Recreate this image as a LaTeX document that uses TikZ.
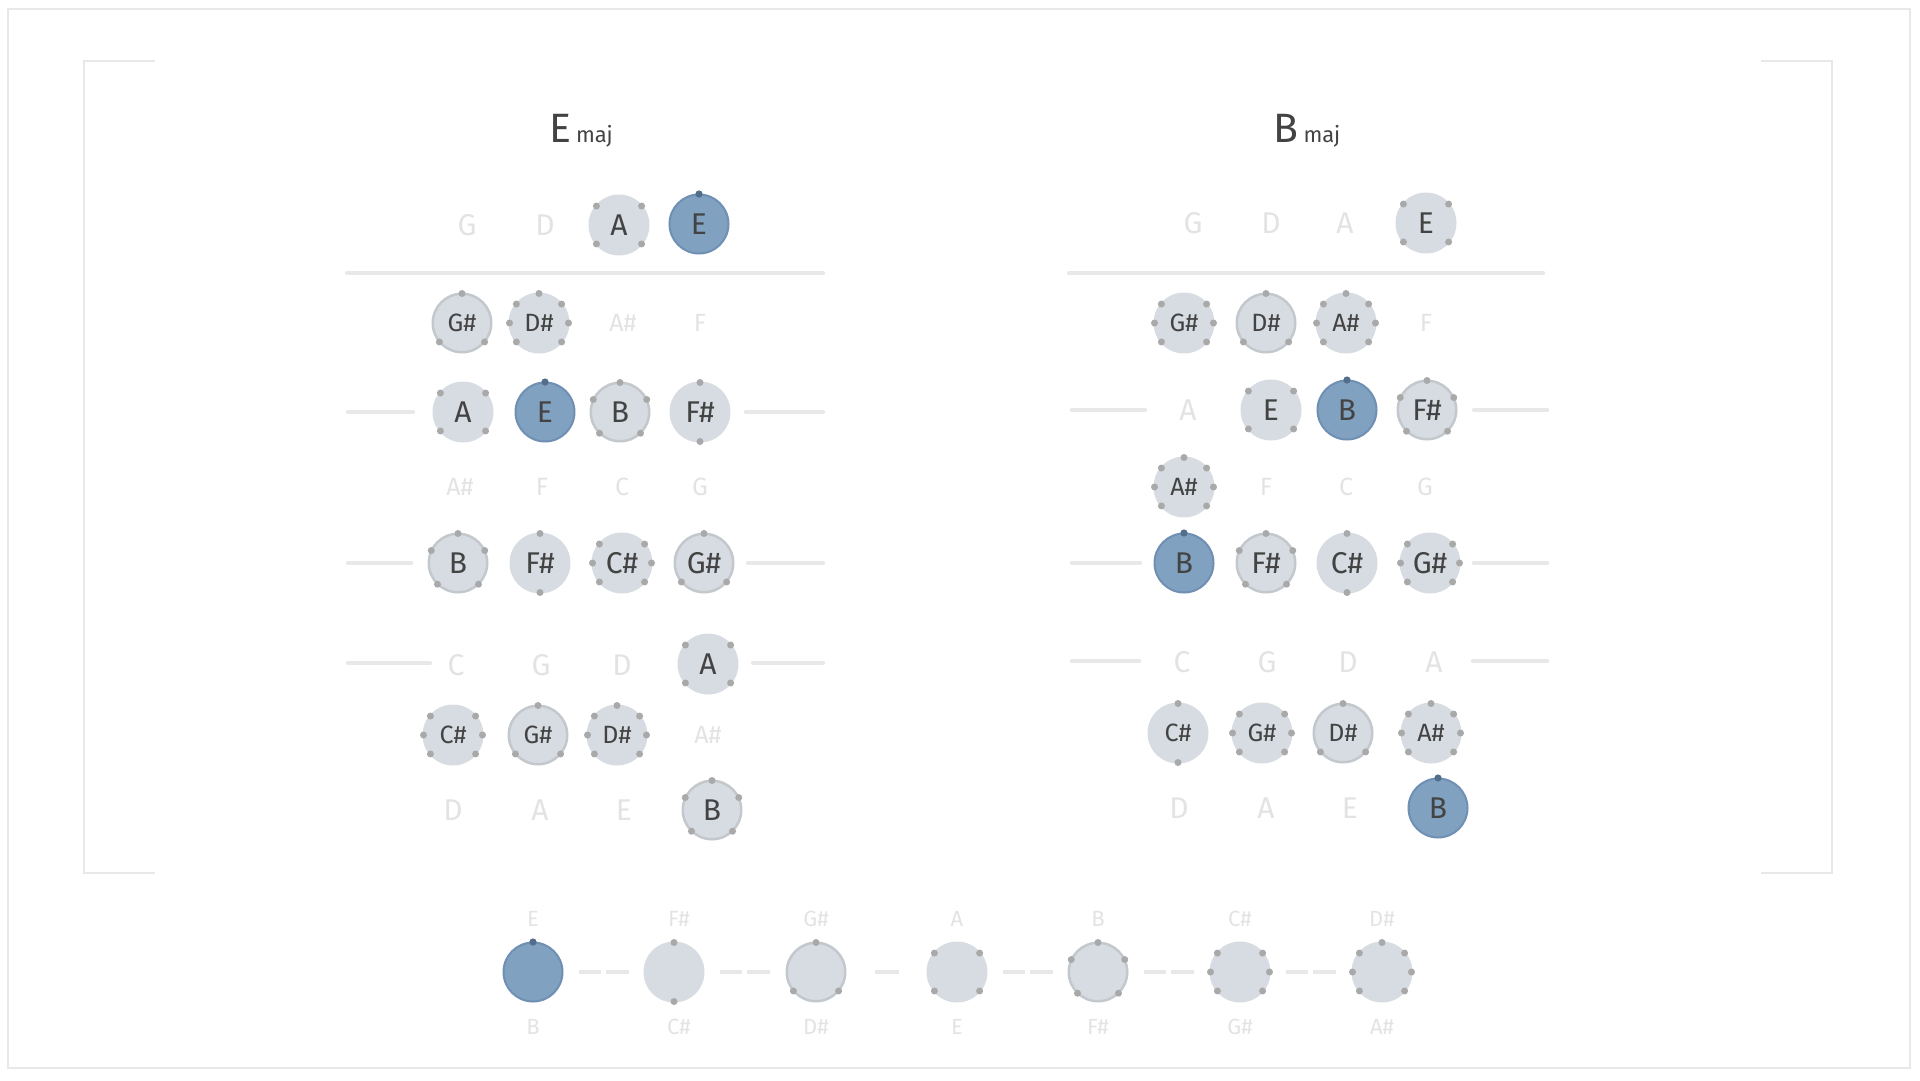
\documentclass[tikz,border=0pt]{standalone}
\usepackage{fontspec}
\setmainfont{Fira Sans}

\definecolor{notegrey}{HTML}{D6DCE2}
\definecolor{ringgrey}{HTML}{C3C8CD}
\definecolor{rootblue}{HTML}{81A1C1}
\definecolor{rootedge}{HTML}{6F8FB3}
\definecolor{rootdot}{HTML}{536E8A}
\definecolor{dotgrey}{HTML}{A9A9A9}
\definecolor{offgrey}{HTML}{E3E3E3}
\definecolor{linegrey}{HTML}{E8E8E8}
\definecolor{inktext}{HTML}{434343}

% dot angles per scale degree
\def\dgII{90,270}
\def\dgIII{90,220,320}
\def\dgIV{40,140,220,320}
\def\dgV{90,155,226,314,25}
\def\dgVI{0,40,140,180,220,320}
\def\dgVII{90,40,0,320,220,180,140}
\newcommand{\degdots}[2]{\foreach \a in #2 {\fill[dotgrey] (#1.center) ++(\a:29.5pt) circle (3.5);}}

\tikzset{
    deg/.style={circle, fill=notegrey, minimum size=61pt, inner sep=0pt, text=inktext},
    chord/.style={deg, draw=ringgrey, line width=2.5pt, minimum size=58.5pt},
    root/.style={deg, fill=rootblue, draw=rootedge, line width=2pt, minimum size=59pt},
    off/.style={inner sep=0pt, text=offgrey},
    bigrow/.style={font=\fontsize{30}{30}\selectfont},
    smallrow/.style={font=\fontsize{25}{25}\selectfont},
    lbl/.style={font=\fontsize{22}{22}\selectfont},
    title/.style={inner sep=0pt, anchor=base, text=inktext, font=\fontsize{41}{41}\selectfont},
    string/.style={draw=linegrey, line width=4.5pt, line cap=round},
    frame/.style={draw=linegrey, line width=2pt},
    whole/.style={draw=linegrey, line width=3.5pt, shorten <=45.5pt, shorten >=45.5pt, dash pattern=on 22.5pt off 5pt on 22.5pt off 200pt},
    half/.style={draw=linegrey, line width=3.5pt, shorten <=58.5pt, shorten >=58.5pt}
}

\begin{document}
\begin{tikzpicture}[x=1pt, y=-1pt]
    \useasboundingbox (0,0) rectangle (1920,1080);
    \draw[frame] (8,9) rectangle (1910,1068);
    \draw[frame] (155,61) -- (84,61) -- (84,873) -- (155,873);
    \draw[frame] (1761,61) -- (1832,61) -- (1832,873) -- (1761,873);

    % E maj
    \node[title] (ttlE) at (581,142) {E\hspace{5pt}{\fontsize{22}{22}\selectfont maj}};
    \draw[string] (347,273) -- (823,273);
    \draw[string] (348,412) -- (413,412);
    \draw[string] (746,412) -- (823,412);
    \draw[string] (348,563) -- (411,563);
    \draw[string] (748,563) -- (823,563);
    \draw[string] (348,663) -- (430,663);
    \draw[string] (753,663) -- (823,663);

    \node[off, bigrow] (e11) at (467,225) {G};
    \node[off, bigrow] (e12) at (545,225) {D};
    \node[deg, bigrow] (e13) at (619,225) {A};
    \node[root, bigrow] (e14) at (699,224) {E};
    \node[chord, smallrow] (e21) at (462,323) {G\#};
    \node[deg, smallrow] (e22) at (539,323) {D\#};
    \node[off, smallrow] (e23) at (623,323) {A\#};
    \node[off, smallrow] (e24) at (700,323) {F};
    \node[deg, bigrow] (e31) at (463,412) {A};
    \node[root, bigrow] (e32) at (545,412) {E};
    \node[chord, bigrow] (e33) at (620,412) {B};
    \node[deg, bigrow] (e34) at (700,412) {F\#};
    \node[off, smallrow] (e41) at (460,487) {A\#};
    \node[off, smallrow] (e42) at (542,487) {F};
    \node[off, smallrow] (e43) at (622,487) {C};
    \node[off, smallrow] (e44) at (700,487) {G};
    \node[chord, bigrow] (e51) at (458,563) {B};
    \node[deg, bigrow] (e52) at (540,563) {F\#};
    \node[deg, bigrow] (e53) at (622,563) {C\#};
    \node[chord, bigrow] (e54) at (704,563) {G\#};
    \node[off, bigrow] (e61) at (456,665) {C};
    \node[off, bigrow] (e62) at (541,665) {G};
    \node[off, bigrow] (e63) at (622,665) {D};
    \node[deg, bigrow] (e64) at (708,664) {A};
    \node[deg, smallrow] (e71) at (453,735) {C\#};
    \node[chord, smallrow] (e72) at (538,735) {G\#};
    \node[deg, smallrow] (e73) at (617,735) {D\#};
    \node[off, smallrow] (e74) at (708,735) {A\#};
    \node[off, bigrow] (e81) at (453,810) {D};
    \node[off, bigrow] (e82) at (540,810) {A};
    \node[off, bigrow] (e83) at (624,810) {E};
    \node[chord, bigrow] (e84) at (712,810) {B};

    % B maj
    \node[title] (ttlB) at (1307,142) {B\hspace{5pt}{\fontsize{22}{22}\selectfont maj}};
    \draw[string] (1069,273) -- (1543,273);
    \draw[string] (1072,410) -- (1145,410);
    \draw[string] (1474,410) -- (1547,410);
    \draw[string] (1072,563) -- (1140,563);
    \draw[string] (1474,563) -- (1547,563);
    \draw[string] (1072,661) -- (1139,661);
    \draw[string] (1473,661) -- (1547,661);

    \node[off, bigrow] (b11) at (1193,223) {G};
    \node[off, bigrow] (b12) at (1271,223) {D};
    \node[off, bigrow] (b13) at (1345,223) {A};
    \node[deg, bigrow] (b14) at (1426,223) {E};
    \node[deg, smallrow] (b21) at (1184,323) {G\#};
    \node[chord, smallrow] (b22) at (1266,323) {D\#};
    \node[deg, smallrow] (b23) at (1346,323) {A\#};
    \node[off, smallrow] (b24) at (1426,323) {F};
    \node[off, bigrow] (b31) at (1188,410) {A};
    \node[deg, bigrow] (b32) at (1271,410) {E};
    \node[root, bigrow] (b33) at (1347,410) {B};
    \node[chord, bigrow] (b34) at (1427,410) {F\#};
    \node[deg, smallrow] (b41) at (1184,487) {A\#};
    \node[off, smallrow] (b42) at (1266,487) {F};
    \node[off, smallrow] (b43) at (1346,487) {C};
    \node[off, smallrow] (b44) at (1425,487) {G};
    \node[root, bigrow] (b51) at (1184,563) {B};
    \node[chord, bigrow] (b52) at (1266,563) {F\#};
    \node[deg, bigrow] (b53) at (1347,563) {C\#};
    \node[deg, bigrow] (b54) at (1430,563) {G\#};
    \node[off, bigrow] (b61) at (1182,662) {C};
    \node[off, bigrow] (b62) at (1267,662) {G};
    \node[off, bigrow] (b63) at (1348,662) {D};
    \node[off, bigrow] (b64) at (1434,662) {A};
    \node[deg, smallrow] (b71) at (1178,733) {C\#};
    \node[deg, smallrow] (b72) at (1262,733) {G\#};
    \node[chord, smallrow] (b73) at (1343,733) {D\#};
    \node[deg, smallrow] (b74) at (1431,733) {A\#};
    \node[off, bigrow] (b81) at (1179,808) {D};
    \node[off, bigrow] (b82) at (1266,808) {A};
    \node[off, bigrow] (b83) at (1350,808) {E};
    \node[root, bigrow] (b84) at (1438,808) {B};

    % scale strip
    \node[root] (s1) at (533,972) {};
    \node[deg] (s2) at (674,972) {};
    \node[chord] (s3) at (816,972) {};
    \node[deg] (s4) at (957,972) {};
    \node[chord] (s5) at (1098,972) {};
    \node[deg] (s6) at (1240,972) {};
    \node[deg] (s7) at (1382,972) {};
    \foreach \x/\t/\b [count=\i] in {533/E/B, 679/F\#/C\#, 816/G\#/D\#, 957/A/E, 1098/B/F\#, 1240/C\#/G\#, 1382/D\#/A\#} {
        \node[off, lbl] (u\i) at (\x,919) {\t};
        \node[off, lbl] (d\i) at (\x,1027) {\b};
    }
    \draw[whole] (s1.center) -- (s2.center);
    \draw[whole] (s2.center) -- (s3.center);
    \draw[half] (s3.center) -- (s4.center);
    \draw[whole] (s4.center) -- (s5.center);
    \draw[whole] (s5.center) -- (s6.center);
    \draw[whole] (s6.center) -- (s7.center);

    \foreach \n in {e14,e32,b33,b51,b84,s1} \fill[rootdot] (\n.center) ++(90:30pt) circle (3.6);
    \foreach \n in {e34,e52,b53,b71,s2} {\degdots{\n}{\dgII}}
    \foreach \n in {e21,e54,e72,b22,b73,s3} {\degdots{\n}{\dgIII}}
    \foreach \n in {e13,e31,e64,b14,b32,s4} {\degdots{\n}{\dgIV}}
    \foreach \n in {e33,e51,e84,b34,b52,s5} {\degdots{\n}{\dgV}}
    \foreach \n in {e53,e71,b21,b54,b72,s6} {\degdots{\n}{\dgVI}}
    \foreach \n in {e22,e73,b23,b41,b74,s7} {\degdots{\n}{\dgVII}}
\end{tikzpicture}
\end{document}
